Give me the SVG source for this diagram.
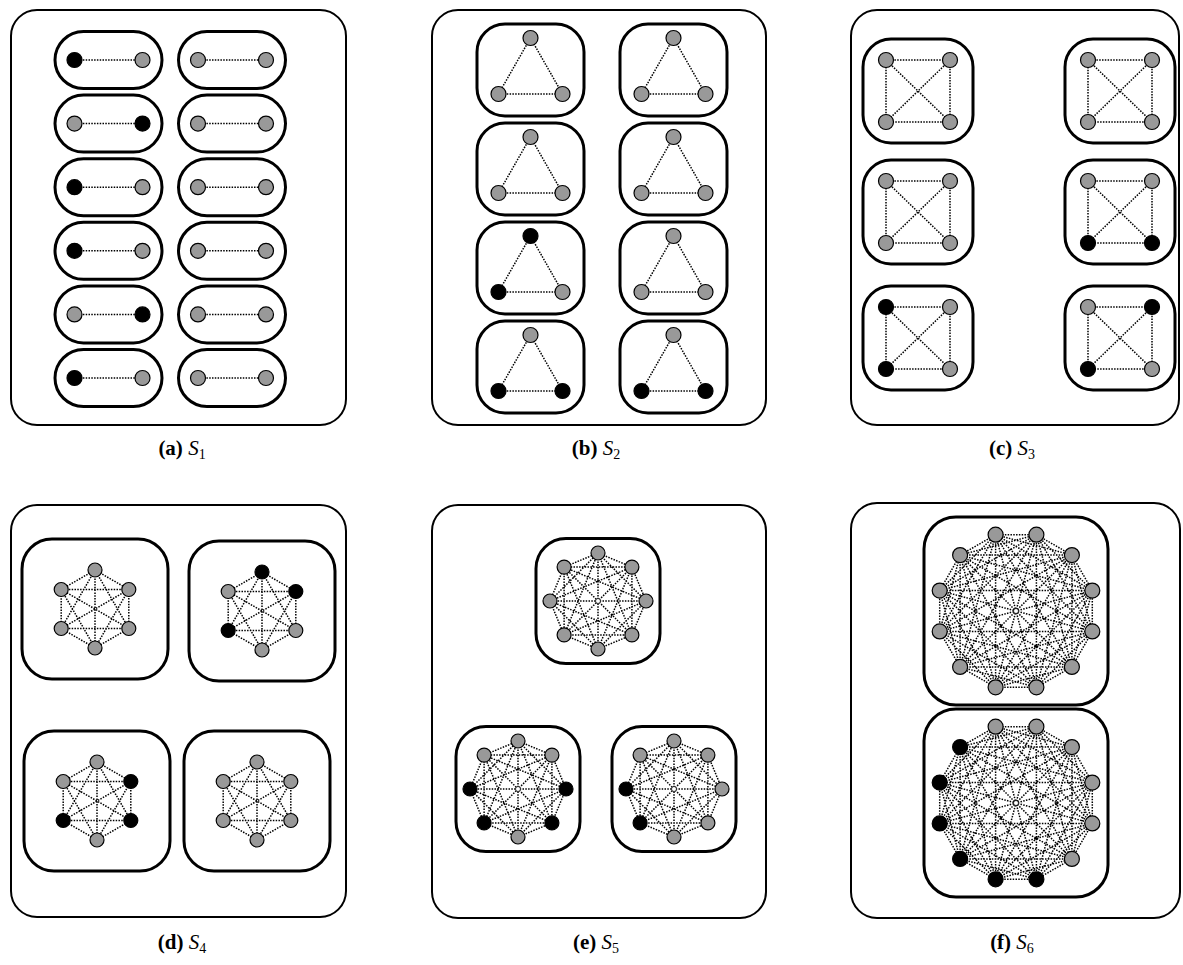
<svg xmlns="http://www.w3.org/2000/svg" xmlns:xlink="http://www.w3.org/1999/xlink" width="1183" height="965" viewBox="0 0 1183 965">
<style>
.fr{fill:none;stroke:#000;stroke-width:2}
.bx{fill:none;stroke:#000;stroke-width:3}
.ed{fill:none;stroke:#000;stroke-width:1.5;stroke-dasharray:1.5 1.3}
.g{fill:#999;stroke:#000;stroke-width:1.2}
.k{fill:#000;stroke:#000;stroke-width:1.2}
.ctr{fill:#fff;stroke:#000;stroke-width:0.8}
.cap{font-family:"Liberation Serif","Times New Roman",serif;font-size:21px;fill:#000}
.b{font-weight:bold}
.i{font-style:italic}
</style>
<defs>
<g id="e2"><path class="ed" d="M-34,0 L34,0"/></g>
<g id="e3"><path class="ed" d="M0,-32 L-32,24 L32,24 Z"/></g>
<g id="e4"><path class="ed" d="M-32,-31 L32,-31 L32,31 L-32,31 Z M-32,-31 L32,31 M32,-31 L-32,31"/></g>
<g id="e6"><path class="ed" d="M0,-39 L33.8,-19.5 L33.8,19.5 L0,39 L-33.8,19.5 L-33.8,-19.5 Z M0,-39 L33.8,19.5 L-33.8,19.5 Z M33.8,-19.5 L0,39 L-33.8,-19.5 Z M0,-39 L0,39 M33.8,-19.5 L-33.8,19.5 M33.8,19.5 L-33.8,-19.5"/></g>
<g id="e8"><path class="ed" d="M0,-48 L33.9,-33.9 L48,0 L33.9,33.9 L0,48 L-33.9,33.9 L-48,0 L-33.9,-33.9 Z M0,-48 L48,0 L0,48 L-48,0 Z M33.9,-33.9 L33.9,33.9 L-33.9,33.9 L-33.9,-33.9 Z M0,-48 L33.9,33.9 L-48,0 L33.9,-33.9 L0,48 L-33.9,-33.9 L48,0 L-33.9,33.9 Z M0,-48 L0,48 M33.9,-33.9 L-33.9,33.9 M48,0 L-48,0 M33.9,33.9 L-33.9,-33.9"/><circle class="ctr" r="2.5"/></g>
<g id="e12"><path class="ed" d="M20.4,-76.3 L55.9,-55.9 L76.3,-20.4 L76.3,20.4 L55.9,55.9 L20.4,76.3 L-20.4,76.3 L-55.9,55.9 L-76.3,20.4 L-76.3,-20.4 L-55.9,-55.9 L-20.4,-76.3 Z M20.4,-76.3 L76.3,-20.4 L55.9,55.9 L-20.4,76.3 L-76.3,20.4 L-55.9,-55.9 Z M55.9,-55.9 L76.3,20.4 L20.4,76.3 L-55.9,55.9 L-76.3,-20.4 L-20.4,-76.3 Z M20.4,-76.3 L76.3,20.4 L-20.4,76.3 L-76.3,-20.4 Z M55.9,-55.9 L55.9,55.9 L-55.9,55.9 L-55.9,-55.9 Z M76.3,-20.4 L20.4,76.3 L-76.3,20.4 L-20.4,-76.3 Z M20.4,-76.3 L55.9,55.9 L-76.3,20.4 Z M55.9,-55.9 L20.4,76.3 L-76.3,-20.4 Z M76.3,-20.4 L-20.4,76.3 L-55.9,-55.9 Z M76.3,20.4 L-55.9,55.9 L-20.4,-76.3 Z M20.4,-76.3 L20.4,76.3 L-55.9,-55.9 L76.3,20.4 L-76.3,20.4 L55.9,-55.9 L-20.4,76.3 L-20.4,-76.3 L55.9,55.9 L-76.3,-20.4 L76.3,-20.4 L-55.9,55.9 Z M20.4,-76.3 L-20.4,76.3 M55.9,-55.9 L-55.9,55.9 M76.3,-20.4 L-76.3,20.4 M76.3,20.4 L-76.3,-20.4 M55.9,55.9 L-55.9,-55.9 M20.4,76.3 L-20.4,-76.3"/><circle class="ctr" r="2.5"/></g>
</defs>
<rect width="1183" height="965" fill="#fff"/>

<g id="frames">
<rect class="fr" x="11" y="10" width="335" height="415" rx="26"/>
<rect class="fr" x="432" y="10" width="334" height="415" rx="26"/>
<rect class="fr" x="851" y="10" width="328" height="415" rx="26"/>
<rect class="fr" x="11" y="505" width="335" height="412" rx="26"/>
<rect class="fr" x="432" y="505" width="334" height="413" rx="26"/>
<rect class="fr" x="851" y="503" width="329" height="415" rx="26"/>
</g>

<g id="connectors">
<use xlink:href="#e2" x="108.5" y="60"/><use xlink:href="#e2" x="232" y="60"/>
<use xlink:href="#e2" x="108.5" y="123.6"/><use xlink:href="#e2" x="232" y="123.6"/>
<use xlink:href="#e2" x="108.5" y="187.2"/><use xlink:href="#e2" x="232" y="187.2"/>
<use xlink:href="#e2" x="108.5" y="250.8"/><use xlink:href="#e2" x="232" y="250.8"/>
<use xlink:href="#e2" x="108.5" y="314.4"/><use xlink:href="#e2" x="232" y="314.4"/>
<use xlink:href="#e2" x="108.5" y="378"/><use xlink:href="#e2" x="232" y="378"/>
<use xlink:href="#e3" x="530.5" y="70"/><use xlink:href="#e3" x="673.5" y="70"/>
<use xlink:href="#e3" x="530.5" y="169"/><use xlink:href="#e3" x="673.5" y="169"/>
<use xlink:href="#e3" x="530.5" y="268"/><use xlink:href="#e3" x="673.5" y="268"/>
<use xlink:href="#e3" x="530.5" y="367"/><use xlink:href="#e3" x="673.5" y="367"/>
<use xlink:href="#e4" x="918" y="91"/><use xlink:href="#e4" x="1120" y="91"/>
<use xlink:href="#e4" x="918" y="212"/><use xlink:href="#e4" x="1120" y="212"/>
<use xlink:href="#e4" x="918" y="338"/><use xlink:href="#e4" x="1120" y="338"/>
<use xlink:href="#e6" x="95" y="609"/><use xlink:href="#e6" x="262" y="611"/>
<use xlink:href="#e6" x="97" y="801"/><use xlink:href="#e6" x="257" y="801"/>
<use xlink:href="#e8" x="598" y="601"/><use xlink:href="#e8" x="518" y="789"/><use xlink:href="#e8" x="674" y="789"/>
<use xlink:href="#e12" x="1016" y="611"/><use xlink:href="#e12" x="1016" y="803"/>
</g>

<!-- (a) S1 -->
<g id="a-L1" transform="translate(108.5,60)"><rect class="bx" x="-53.5" y="-28.5" width="107" height="57" rx="28.5"/><circle class="k" cx="-34" r="7.5"/><circle class="g" cx="34" r="7.5"/></g>
<g id="a-R1" transform="translate(232,60)"><rect class="bx" x="-53.5" y="-28.5" width="107" height="57" rx="28.5"/><circle class="g" cx="-34" r="7.5"/><circle class="g" cx="34" r="7.5"/></g>
<g id="a-L2" transform="translate(108.5,123.6)"><rect class="bx" x="-53.5" y="-28.5" width="107" height="57" rx="28.5"/><circle class="g" cx="-34" r="7.5"/><circle class="k" cx="34" r="7.5"/></g>
<g id="a-R2" transform="translate(232,123.6)"><rect class="bx" x="-53.5" y="-28.5" width="107" height="57" rx="28.5"/><circle class="g" cx="-34" r="7.5"/><circle class="g" cx="34" r="7.5"/></g>
<g id="a-L3" transform="translate(108.5,187.2)"><rect class="bx" x="-53.5" y="-28.5" width="107" height="57" rx="28.5"/><circle class="k" cx="-34" r="7.5"/><circle class="g" cx="34" r="7.5"/></g>
<g id="a-R3" transform="translate(232,187.2)"><rect class="bx" x="-53.5" y="-28.5" width="107" height="57" rx="28.5"/><circle class="g" cx="-34" r="7.5"/><circle class="g" cx="34" r="7.5"/></g>
<g id="a-L4" transform="translate(108.5,250.8)"><rect class="bx" x="-53.5" y="-28.5" width="107" height="57" rx="28.5"/><circle class="k" cx="-34" r="7.5"/><circle class="g" cx="34" r="7.5"/></g>
<g id="a-R4" transform="translate(232,250.8)"><rect class="bx" x="-53.5" y="-28.5" width="107" height="57" rx="28.5"/><circle class="g" cx="-34" r="7.5"/><circle class="g" cx="34" r="7.5"/></g>
<g id="a-L5" transform="translate(108.5,314.4)"><rect class="bx" x="-53.5" y="-28.5" width="107" height="57" rx="28.5"/><circle class="g" cx="-34" r="7.5"/><circle class="k" cx="34" r="7.5"/></g>
<g id="a-R5" transform="translate(232,314.4)"><rect class="bx" x="-53.5" y="-28.5" width="107" height="57" rx="28.5"/><circle class="g" cx="-34" r="7.5"/><circle class="g" cx="34" r="7.5"/></g>
<g id="a-L6" transform="translate(108.5,378)"><rect class="bx" x="-53.5" y="-28.5" width="107" height="57" rx="28.5"/><circle class="k" cx="-34" r="7.5"/><circle class="g" cx="34" r="7.5"/></g>
<g id="a-R6" transform="translate(232,378)"><rect class="bx" x="-53.5" y="-28.5" width="107" height="57" rx="28.5"/><circle class="g" cx="-34" r="7.5"/><circle class="g" cx="34" r="7.5"/></g>

<!-- (b) S2 -->
<g id="b-L1" transform="translate(530.5,70)"><rect class="bx" x="-53.5" y="-46" width="107" height="92" rx="28"/><circle class="g" cy="-32" r="7.5"/><circle class="g" cx="-32" cy="24" r="7.5"/><circle class="g" cx="32" cy="24" r="7.5"/></g>
<g id="b-R1" transform="translate(673.5,70)"><rect class="bx" x="-53.5" y="-46" width="107" height="92" rx="28"/><circle class="g" cy="-32" r="7.5"/><circle class="g" cx="-32" cy="24" r="7.5"/><circle class="g" cx="32" cy="24" r="7.5"/></g>
<g id="b-L2" transform="translate(530.5,169)"><rect class="bx" x="-53.5" y="-46" width="107" height="92" rx="28"/><circle class="g" cy="-32" r="7.5"/><circle class="g" cx="-32" cy="24" r="7.5"/><circle class="g" cx="32" cy="24" r="7.5"/></g>
<g id="b-R2" transform="translate(673.5,169)"><rect class="bx" x="-53.5" y="-46" width="107" height="92" rx="28"/><circle class="g" cy="-32" r="7.5"/><circle class="g" cx="-32" cy="24" r="7.5"/><circle class="g" cx="32" cy="24" r="7.5"/></g>
<g id="b-L3" transform="translate(530.5,268)"><rect class="bx" x="-53.5" y="-46" width="107" height="92" rx="28"/><circle class="k" cy="-32" r="7.5"/><circle class="k" cx="-32" cy="24" r="7.5"/><circle class="g" cx="32" cy="24" r="7.5"/></g>
<g id="b-R3" transform="translate(673.5,268)"><rect class="bx" x="-53.5" y="-46" width="107" height="92" rx="28"/><circle class="g" cy="-32" r="7.5"/><circle class="g" cx="-32" cy="24" r="7.5"/><circle class="g" cx="32" cy="24" r="7.5"/></g>
<g id="b-L4" transform="translate(530.5,367)"><rect class="bx" x="-53.5" y="-46" width="107" height="92" rx="28"/><circle class="g" cy="-32" r="7.5"/><circle class="k" cx="-32" cy="24" r="7.5"/><circle class="k" cx="32" cy="24" r="7.5"/></g>
<g id="b-R4" transform="translate(673.5,367)"><rect class="bx" x="-53.5" y="-46" width="107" height="92" rx="28"/><circle class="g" cy="-32" r="7.5"/><circle class="k" cx="-32" cy="24" r="7.5"/><circle class="k" cx="32" cy="24" r="7.5"/></g>

<!-- (c) S3 -->
<g id="c-L1" transform="translate(918,91)"><rect class="bx" x="-55" y="-52" width="110" height="104" rx="28"/><circle class="g" cx="-32" cy="-31" r="7.5"/><circle class="g" cx="32" cy="-31" r="7.5"/><circle class="g" cx="-32" cy="31" r="7.5"/><circle class="g" cx="32" cy="31" r="7.5"/></g>
<g id="c-R1" transform="translate(1120,91)"><rect class="bx" x="-55" y="-52" width="110" height="104" rx="28"/><circle class="g" cx="-32" cy="-31" r="7.5"/><circle class="g" cx="32" cy="-31" r="7.5"/><circle class="g" cx="-32" cy="31" r="7.5"/><circle class="g" cx="32" cy="31" r="7.5"/></g>
<g id="c-L2" transform="translate(918,212)"><rect class="bx" x="-55" y="-52" width="110" height="104" rx="28"/><circle class="g" cx="-32" cy="-31" r="7.5"/><circle class="g" cx="32" cy="-31" r="7.5"/><circle class="g" cx="-32" cy="31" r="7.5"/><circle class="g" cx="32" cy="31" r="7.5"/></g>
<g id="c-R2" transform="translate(1120,212)"><rect class="bx" x="-55" y="-52" width="110" height="104" rx="28"/><circle class="g" cx="-32" cy="-31" r="7.5"/><circle class="g" cx="32" cy="-31" r="7.5"/><circle class="k" cx="-32" cy="31" r="7.5"/><circle class="k" cx="32" cy="31" r="7.5"/></g>
<g id="c-L3" transform="translate(918,338)"><rect class="bx" x="-55" y="-52" width="110" height="104" rx="28"/><circle class="k" cx="-32" cy="-31" r="7.5"/><circle class="g" cx="32" cy="-31" r="7.5"/><circle class="k" cx="-32" cy="31" r="7.5"/><circle class="g" cx="32" cy="31" r="7.5"/></g>
<g id="c-R3" transform="translate(1120,338)"><rect class="bx" x="-55" y="-52" width="110" height="104" rx="28"/><circle class="g" cx="-32" cy="-31" r="7.5"/><circle class="k" cx="32" cy="-31" r="7.5"/><circle class="k" cx="-32" cy="31" r="7.5"/><circle class="g" cx="32" cy="31" r="7.5"/></g>

<!-- (d) S4 -->
<g id="d-TL" transform="translate(95,609)"><rect class="bx" x="-73" y="-70" width="146" height="140" rx="30"/><circle class="g" cy="-39" r="7"/><circle class="g" cx="33.8" cy="-19.5" r="7"/><circle class="g" cx="33.8" cy="19.5" r="7"/><circle class="g" cy="39" r="7"/><circle class="g" cx="-33.8" cy="19.5" r="7"/><circle class="g" cx="-33.8" cy="-19.5" r="7"/></g>
<g id="d-TR" transform="translate(262,611)"><rect class="bx" x="-73" y="-70" width="146" height="140" rx="30"/><circle class="k" cy="-39" r="7"/><circle class="k" cx="33.8" cy="-19.5" r="7"/><circle class="g" cx="33.8" cy="19.5" r="7"/><circle class="g" cy="39" r="7"/><circle class="k" cx="-33.8" cy="19.5" r="7"/><circle class="g" cx="-33.8" cy="-19.5" r="7"/></g>
<g id="d-BL" transform="translate(97,801)"><rect class="bx" x="-73" y="-70" width="146" height="140" rx="30"/><circle class="g" cy="-39" r="7"/><circle class="k" cx="33.8" cy="-19.5" r="7"/><circle class="k" cx="33.8" cy="19.5" r="7"/><circle class="g" cy="39" r="7"/><circle class="k" cx="-33.8" cy="19.5" r="7"/><circle class="g" cx="-33.8" cy="-19.5" r="7"/></g>
<g id="d-BR" transform="translate(257,801)"><rect class="bx" x="-73" y="-70" width="146" height="140" rx="30"/><circle class="g" cy="-39" r="7"/><circle class="g" cx="33.8" cy="-19.5" r="7"/><circle class="g" cx="33.8" cy="19.5" r="7"/><circle class="g" cy="39" r="7"/><circle class="g" cx="-33.8" cy="19.5" r="7"/><circle class="g" cx="-33.8" cy="-19.5" r="7"/></g>

<!-- (e) S5 -->
<g id="e-T" transform="translate(598,601)"><rect class="bx" x="-62" y="-62.5" width="124" height="125" rx="30"/><circle class="g" cy="-48" r="7"/><circle class="g" cx="33.9" cy="-33.9" r="7"/><circle class="g" cx="48" r="7"/><circle class="g" cx="33.9" cy="33.9" r="7"/><circle class="g" cy="48" r="7"/><circle class="g" cx="-33.9" cy="33.9" r="7"/><circle class="g" cx="-48" r="7"/><circle class="g" cx="-33.9" cy="-33.9" r="7"/></g>
<g id="e-BL" transform="translate(518,789)"><rect class="bx" x="-62" y="-62.5" width="124" height="125" rx="30"/><circle class="g" cy="-48" r="7"/><circle class="g" cx="33.9" cy="-33.9" r="7"/><circle class="k" cx="48" r="7"/><circle class="k" cx="33.9" cy="33.9" r="7"/><circle class="g" cy="48" r="7"/><circle class="k" cx="-33.9" cy="33.9" r="7"/><circle class="k" cx="-48" r="7"/><circle class="g" cx="-33.9" cy="-33.9" r="7"/></g>
<g id="e-BR" transform="translate(674,789)"><rect class="bx" x="-62" y="-62.5" width="124" height="125" rx="30"/><circle class="g" cy="-48" r="7"/><circle class="g" cx="33.9" cy="-33.9" r="7"/><circle class="g" cx="48" r="7"/><circle class="g" cx="33.9" cy="33.9" r="7"/><circle class="g" cy="48" r="7"/><circle class="k" cx="-33.9" cy="33.9" r="7"/><circle class="k" cx="-48" r="7"/><circle class="g" cx="-33.9" cy="-33.9" r="7"/></g>

<!-- (f) S6 -->
<g id="f-T" transform="translate(1016,611)"><rect class="bx" x="-92" y="-94" width="184" height="188" rx="32"/><circle class="g" cx="20.4" cy="-76.3" r="7.5"/><circle class="g" cx="55.9" cy="-55.9" r="7.5"/><circle class="g" cx="76.3" cy="-20.4" r="7.5"/><circle class="g" cx="76.3" cy="20.4" r="7.5"/><circle class="g" cx="55.9" cy="55.9" r="7.5"/><circle class="g" cx="20.4" cy="76.3" r="7.5"/><circle class="g" cx="-20.4" cy="76.3" r="7.5"/><circle class="g" cx="-55.9" cy="55.9" r="7.5"/><circle class="g" cx="-76.3" cy="20.4" r="7.5"/><circle class="g" cx="-76.3" cy="-20.4" r="7.5"/><circle class="g" cx="-55.9" cy="-55.9" r="7.5"/><circle class="g" cx="-20.4" cy="-76.3" r="7.5"/></g>
<g id="f-B" transform="translate(1016,803)"><rect class="bx" x="-92" y="-94" width="184" height="188" rx="32"/><circle class="g" cx="20.4" cy="-76.3" r="7.5"/><circle class="g" cx="55.9" cy="-55.9" r="7.5"/><circle class="g" cx="76.3" cy="-20.4" r="7.5"/><circle class="g" cx="76.3" cy="20.4" r="7.5"/><circle class="g" cx="55.9" cy="55.9" r="7.5"/><circle class="k" cx="20.4" cy="76.3" r="7.5"/><circle class="k" cx="-20.4" cy="76.3" r="7.5"/><circle class="k" cx="-55.9" cy="55.9" r="7.5"/><circle class="k" cx="-76.3" cy="20.4" r="7.5"/><circle class="k" cx="-76.3" cy="-20.4" r="7.5"/><circle class="k" cx="-55.9" cy="-55.9" r="7.5"/><circle class="g" cx="-20.4" cy="-76.3" r="7.5"/></g>

<g id="captions">
<text class="cap" x="182" y="455" text-anchor="middle"><tspan class="b">(a)</tspan> <tspan class="i">S</tspan><tspan font-size="14" dy="4">1</tspan></text>
<text class="cap" x="596" y="455" text-anchor="middle"><tspan class="b">(b)</tspan> <tspan class="i">S</tspan><tspan font-size="14" dy="4">2</tspan></text>
<text class="cap" x="1012" y="455" text-anchor="middle"><tspan class="b">(c)</tspan> <tspan class="i">S</tspan><tspan font-size="14" dy="4">3</tspan></text>
<text class="cap" x="182" y="949" text-anchor="middle"><tspan class="b">(d)</tspan> <tspan class="i">S</tspan><tspan font-size="14" dy="4">4</tspan></text>
<text class="cap" x="596" y="949" text-anchor="middle"><tspan class="b">(e)</tspan> <tspan class="i">S</tspan><tspan font-size="14" dy="4">5</tspan></text>
<text class="cap" x="1012" y="949" text-anchor="middle"><tspan class="b">(f)</tspan> <tspan class="i">S</tspan><tspan font-size="14" dy="4">6</tspan></text>
</g>
</svg>
